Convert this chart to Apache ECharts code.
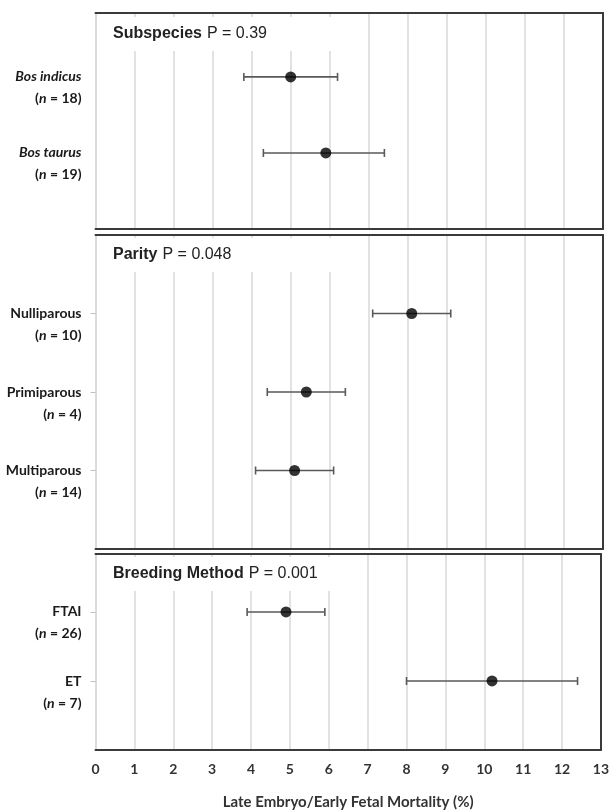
<!DOCTYPE html>
<html lang="en">
<head>
<meta charset="UTF-8">
<title>Late embryo / early fetal mortality</title>
<script src="https://cdn.jsdelivr.net/npm/echarts@6/dist/echarts.min.js"></script>
<style>
    html, body { margin: 0; padding: 0; background: #fff; }
    #main { width: 612px; height: 811px; }
</style>
</head>
<body>
<div id="main"></div>
<script>
// panel 1 - subspecies
var subNames = ['Bos indicus', 'Bos taurus'];
var subN = [18, 19];
var subMean = [5.0, 5.9];
var subLo = [3.8, 4.3];
var subHi = [6.2, 7.4];

// panel 2 - parity
var parNames = ['Nulliparous', 'Primiparous', 'Multiparous'];
var parN = [10, 4, 14];
var parMean = [8.1, 5.4, 5.1];
var parLo = [7.1, 4.4, 4.1];
var parHi = [9.1, 6.4, 6.1];

// panel 3 - breeding method
var brNames = ['FTAI', 'ET'];
var brN = [26, 7];
var brMean = [4.9, 10.2];
var brLo = [3.9, 8.0];
var brHi = [5.9, 12.4];

var panelTitles = ['Subspecies', 'Parity', 'Breeding Method'];
var panelP = ['P = 0.39', 'P = 0.048', 'P = 0.001'];
var xTicks = [0, 1, 2, 3, 4, 5, 6, 7, 8, 9, 10, 11, 12, 13];
var xName = 'Late Embryo/Early Fetal Mortality (%)';

var panels = [
    {names: subNames, n: subN, mean: subMean, lo: subLo, hi: subHi, italic: true,
        top: 13, height: 216, ymin: -0.84, ymax: 2, ticks: false, tPad: [8, 72, 8, 16], tTop: 17},
    {names: parNames, n: parN, mean: parMean, lo: parLo, hi: parHi, italic: false,
        top: 235, height: 314, ymin: -1, ymax: 3, ticks: true, tPad: [8, 107, 8, 16], tTop: 238},
    {names: brNames, n: brN, mean: brMean, lo: brLo, hi: brHi, italic: false,
        top: 554, height: 202, ymin: -0.84, ymax: 2, ticks: true, tPad: [8, 23, 8, 16], tTop: 557}
];

var labelFont = 'Lato, "Open Sans", sans-serif';
var titleFont = '"Liberation Sans", Arial, sans-serif';
var gridGray = '#d9d9d9';
var frame = '#3a3a3a';

var grid = [], xAxis = [], yAxis = [], series = [], title = [];

function errorBar(params, api) {
    var row = api.value(0);
    var a = api.coord([api.value(1), row]);
    var b = api.coord([api.value(2), row]);
    var st = {stroke: '#595959', lineWidth: 1.6};
    return {
        type: 'group',
        children: [
            {type: 'line', shape: {x1: a[0], y1: a[1], x2: b[0], y2: b[1]}, style: st},
            {type: 'line', shape: {x1: a[0], y1: a[1] - 4, x2: a[0], y2: a[1] + 4}, style: st},
            {type: 'line', shape: {x1: b[0], y1: b[1] - 4, x2: b[0], y2: b[1] + 4}, style: st}
        ]
    };
}

panels.forEach(function (p, i) {
    var last = i === panels.length - 1;
    var rows = p.names.map(function (d, k) { return k; });

    grid.push({left: 95.5, right: 9, top: p.top, height: p.height});

    title.push({
        text: '{b|' + panelTitles[i] + '} {r|' + panelP[i] + '}',
        left: 97, top: p.tTop,
        padding: p.tPad,
        backgroundColor: '#fff',
        textStyle: {
            fontWeight: 'normal',
            rich: {
                b: {fontFamily: titleFont, fontWeight: 'bold', fontSize: 16, color: '#222'},
                r: {fontFamily: titleFont, fontWeight: 'normal', fontSize: 16, color: '#222'}
            }
        }
    });

    // bottom x axis (gridlines, labels on the last panel)
    xAxis.push({
        type: 'value', gridIndex: i, min: 0, max: 13, interval: 1,
        axisLine: {show: true, onZero: false, lineStyle: {color: frame, width: 2}},
        axisTick: {show: false},
        splitLine: {show: true, lineStyle: {color: gridGray, width: 1.5}},
        axisLabel: {
            show: last, margin: 12,
            fontFamily: labelFont, fontWeight: 'bold', fontSize: 14, color: '#333',
            formatter: function (v) { return xTicks.indexOf(v) >= 0 ? String(v) : ''; }
        },
        name: last ? xName : '',
        nameLocation: 'middle', nameGap: 45,
        nameTextStyle: {fontFamily: labelFont, fontWeight: 'bold', fontSize: 15, color: '#333'}
    });
    // top frame line
    xAxis.push({
        type: 'value', gridIndex: i, position: 'top', min: 0, max: 13,
        axisLine: {show: true, onZero: false, lineStyle: {color: frame, width: 2}},
        axisTick: {show: false}, axisLabel: {show: false}, splitLine: {show: false}
    });

    yAxis.push({
        type: 'value', gridIndex: i, inverse: true, min: p.ymin, max: p.ymax,
        axisLine: {show: true, onZero: false, lineStyle: {color: gridGray, width: 1.5}},
        splitLine: {show: false},
        axisTick: {show: p.ticks, customValues: rows, length: 5, lineStyle: {color: '#bfbfbf'}},
        axisLabel: {
            customValues: rows, margin: 14, align: 'right',
            formatter: function (v) {
                var nm = p.italic ? '{ai|' + p.names[v] + '}' : '{a|' + p.names[v] + '}';
                return '{e| }\n' + nm + '\n{a|(}{ai|n}{a| = ' + p.n[v] + ')}';
            },
            rich: {
                e: {fontSize: 14, lineHeight: 22},
                a: {fontFamily: labelFont, fontWeight: 'bold', fontSize: 14, color: '#1a1a1a', lineHeight: 22},
                ai: {fontFamily: labelFont, fontWeight: 'bold', fontStyle: 'italic', fontSize: 14, color: '#1a1a1a', lineHeight: 22}
            }
        }
    });
    // right frame line
    yAxis.push({
        type: 'value', gridIndex: i, position: 'right', inverse: true, min: p.ymin, max: p.ymax,
        axisLine: {show: true, onZero: false, lineStyle: {color: frame, width: 2}},
        axisTick: {show: false}, axisLabel: {show: false}, splitLine: {show: false}
    });

    series.push({
        type: 'custom',
        xAxisIndex: 2 * i, yAxisIndex: 2 * i,
        renderItem: errorBar,
        encode: {x: [1, 2], y: 0},
        data: rows.map(function (k) { return [k, p.lo[k], p.hi[k]]; }),
        silent: true
    });
    series.push({
        type: 'scatter',
        xAxisIndex: 2 * i, yAxisIndex: 2 * i,
        symbolSize: 11,
        itemStyle: {color: '#000'},
        data: rows.map(function (k) { return [p.mean[k], k]; }),
        z: 5
    });
});

var myChart = echarts.init(document.getElementById('main'));
myChart.setOption({
    animation: false,
    backgroundColor: '#fff',
    title: title,
    grid: grid,
    xAxis: xAxis,
    yAxis: yAxis,
    series: series
});
</script>
</body>
</html>
